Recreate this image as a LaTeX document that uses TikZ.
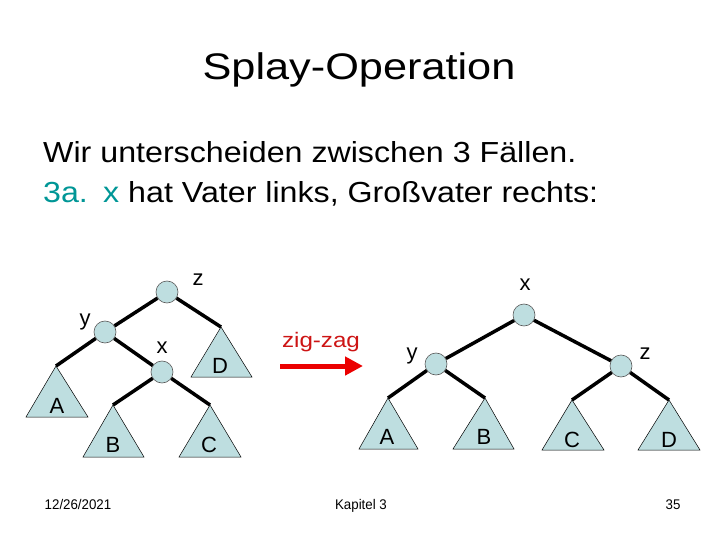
\documentclass[tikz,border=0pt]{standalone}
\usepackage{fontspec}
\setmainfont{Liberation Sans}
\usetikzlibrary{arrows.meta}
\definecolor{nodefill}{RGB}{190,222,224}
\definecolor{tealtxt}{RGB}{0,150,150}
\definecolor{arrowred}{RGB}{235,0,0}
\definecolor{zigred}{RGB}{205,20,20}
\newcommand{\widetxt}[2][1.15]{\scalebox{#1}[1]{#2}}
\begin{document}
\begin{tikzpicture}[x=1pt,y=-1pt,
  knot/.style={circle,draw=black!65,fill=nodefill,minimum size=22pt,inner sep=0pt,line width=0.6pt},
  subtree/.style={draw=black,fill=nodefill,line width=0.5pt},
  lbl/.style={font=\fontsize{22}{24}\selectfont,inner sep=0pt},
  edgeline/.style={line width=3.5pt},
  foot/.style={font=\fontsize{14}{16}\selectfont,inner sep=0pt,anchor=base},
]
\useasboundingbox (0,0) rectangle (720,540);

% title and text
\node[anchor=base,inner sep=0pt,font=\fontsize{37}{40}\selectfont] (title) at (359,80) {\widetxt[1.17]{Splay-Operation}};
\node[anchor=base west,inner sep=0pt,font=\fontsize{29}{32}\selectfont] (line1) at (43,163) {\widetxt[1.11]{Wir unterscheiden zwischen 3 Fällen.}};
\node[anchor=base west,inner sep=0pt,font=\fontsize{29}{32}\selectfont,text=tealtxt] (case) at (43,203) {\widetxt[1.11]{3a.}};
\node[anchor=base west,inner sep=0pt,font=\fontsize{29}{32}\selectfont] (line2) at (103,203) {\widetxt[1.11]{{\color{tealtxt}x} hat Vater links, Großvater rechts:}};

% ---------- left tree ----------
\node[knot] (lz) at (167,292) {};
\node[knot] (ly) at (105,332) {};
\node[knot] (lx) at (162,372) {};
\coordinate (lA) at (56,366);
\coordinate (lB) at (113,405);
\coordinate (lC) at (210,405);
\coordinate (lD) at (221,327);
\draw[subtree] (lA) -- (26,417) -- (88,417) -- cycle;
\draw[subtree] (lB) -- (83,457) -- (144,457) -- cycle;
\draw[subtree] (lC) -- (179,457) -- (241,457) -- cycle;
\draw[subtree] (lD) -- (191,377) -- (252,377) -- cycle;
\draw[edgeline] (lz) -- (ly);
\draw[edgeline] (lz) -- (lD);
\draw[edgeline] (ly) -- (lA);
\draw[edgeline] (ly) -- (lx);
\draw[edgeline] (lx) -- (lB);
\draw[edgeline] (lx) -- (lC);
\node[lbl,anchor=base] (lzl) at (198,285) {z};
\node[lbl,anchor=base] (lyl) at (85,325) {y};
\node[lbl,anchor=base] (lxl) at (162,353) {x};
\node[lbl] (lAl) at (57,405.5) {A};
\node[lbl] (lBl) at (113,445) {B};
\node[lbl] (lCl) at (209,445) {C};
\node[lbl] (lDl) at (220,366) {D};

% ---------- arrow ----------
\coordinate (arrS) at (280,366);
\coordinate (arrE) at (363,366);
\draw[arrowred,line width=5pt,-{Triangle[length=18pt,width=18pt]}] (arrS) -- (arrE);
\node[font=\fontsize{21}{24}\selectfont,text=zigred,anchor=base,inner sep=0pt] (zz) at (321,347) {\widetxt{zig-zag}};

% ---------- right tree ----------
\node[knot] (rx) at (524,315) {};
\node[knot] (ry) at (436,364) {};
\node[knot] (rz) at (621,366) {};
\coordinate (rA) at (388,398);
\coordinate (rB) at (485,398);
\coordinate (rC) at (572,400);
\coordinate (rD) at (669,400);
\draw[subtree] (rA) -- (359,449) -- (418,449) -- cycle;
\draw[subtree] (rB) -- (453,449) -- (514,449) -- cycle;
\draw[subtree] (rC) -- (542,450) -- (604,450) -- cycle;
\draw[subtree] (rD) -- (638,450) -- (700,450) -- cycle;
\draw[edgeline] (rx) -- (ry);
\draw[edgeline] (rx) -- (rz);
\draw[edgeline] (ry) -- (rA);
\draw[edgeline] (ry) -- (rB);
\draw[edgeline] (rz) -- (rC);
\draw[edgeline] (rz) -- (rD);
\node[lbl,anchor=base] (rxl) at (525,290) {x};
\node[lbl,anchor=base] (ryl) at (412,359) {y};
\node[lbl,anchor=base] (rzl) at (645,359) {z};
\node[lbl] (rAl) at (387,437) {A};
\node[lbl] (rBl) at (484,437) {B};
\node[lbl] (rCl) at (572,440) {C};
\node[lbl] (rDl) at (669,440) {D};

% ---------- footer ----------
\node[foot] (date) at (78,509) {\scalebox{0.95}[1]{12/26/2021}};
\node[foot] (chap) at (361,509) {\scalebox{0.95}[1]{Kapitel 3}};
\node[foot] (page) at (673,509) {\scalebox{0.95}[1]{35}};
\end{tikzpicture}
\end{document}
